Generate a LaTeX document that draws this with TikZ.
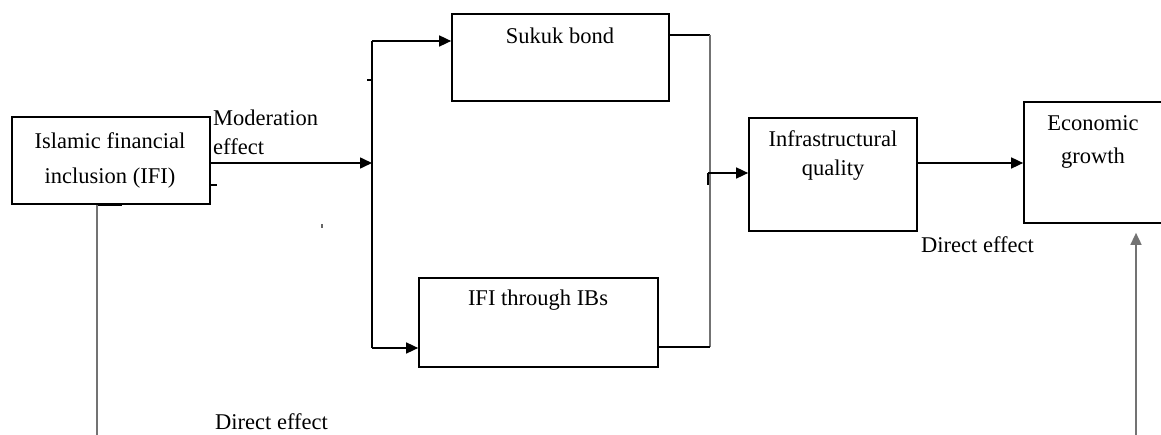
\documentclass[tikz,border=0pt]{standalone}
\usepackage{fontspec}
\setmainfont{Liberation Serif}
\usetikzlibrary{arrows.meta}
\begin{document}
\begin{tikzpicture}[x=1pt,y=-1pt,
  box/.style={draw, line width=1.7pt, rectangle, inner sep=0pt},
  txt/.style={font=\fontsize{22.5}{33}\selectfont, inner sep=0pt, align=center},
  link/.style={line width=1.6pt},
  faint/.style={line width=1.6pt, draw=black!55},
  tip/.style={-{Triangle[length=12pt,width=11pt]}},
  arr/.style={link, tip}]
\clip (0,0) rectangle (1161,435);
\useasboundingbox (0,0) rectangle (1161,435);
\fill[white] (0,0) rectangle (1161,435);

% boxes
\node[box, minimum width=198, minimum height=87] (ifi) at (111,160.5) {};
\node[box, minimum width=217, minimum height=87] (sukuk) at (560.5,57.5) {};
\node[box, minimum width=239, minimum height=89] (ibs) at (538.5,322.5) {};
\node[box, minimum width=168, minimum height=113] (infra) at (833,174.5) {};
\node[box, minimum width=160, minimum height=121] (growth) at (1104,162.5) {};

% box texts
\node[txt, font=\fontsize{22.5}{35}\selectfont] (ifiT) at (110,160) {Islamic financial\\inclusion (IFI)};
\node[txt] (sukukT) at (560,36) {Sukuk bond};
\node[txt] (ibsT) at (538,300) {IFI through IBs};
\node[txt, font=\fontsize{22.5}{29}\selectfont] (infraT) at (833,156) {Infrastructural\\quality};
\node[txt] (growthT) at (1093,142) {Economic\\growth};

% labels
\node[txt, anchor=west, align=left, font=\fontsize{22.5}{29}\selectfont] (modT) at (213,132) {Moderation\\effect};
\node[txt, anchor=west] (dirA) at (921,245) {Direct effect};
\node[txt, anchor=west] (dirB) at (215,422) {Direct effect};

% junction points
\coordinate (split) at (372,163);
\coordinate (splitTop) at (372,41);
\coordinate (splitBot) at (372,348);
\coordinate (joinTop) at (710,35);
\coordinate (joinBot) at (710,347);
\coordinate (joinIn) at (708,173);
\coordinate (baseL) at (97,435);
\coordinate (baseR) at (1136,435);

% moderation path
\draw[arr] (ifi.east |- split) -- (split);
\draw[link] (splitTop) -- (splitBot);
\draw[link] (367,80) -- (372,80);
\draw[arr] (splitTop) -- (sukuk.west |- splitTop);
\draw[arr] (splitBot) -- (ibs.west |- splitBot);
\draw[link] (210,185) -- (217,185);

% join into infrastructural quality
\draw[link] (sukuk.east |- joinTop) -- (joinTop);
\draw[faint] (joinTop) -- (joinBot);
\draw[link] (ibs.east |- joinBot) -- (joinBot);
\draw[arr] (joinIn) -- (infra.west |- joinIn);
\draw[link] (joinIn) -- (708,185);

% direct effect on growth
\draw[arr] (infra.east |- 0,163) -- (growth.west |- 0,163);
\draw[link] (917,163) -- (917,183);

% direct effect from IFI
\draw[line width=3pt] (97,205) -- (122,205);
\draw[faint] (ifi.south -| baseL) -- (baseL);
\draw[faint, tip, shorten >=9pt] (baseR) -- (growth.south -| baseR);

% stray mark
\fill[black!60] (321,224) rectangle (323,228);
\end{tikzpicture}
\end{document}
